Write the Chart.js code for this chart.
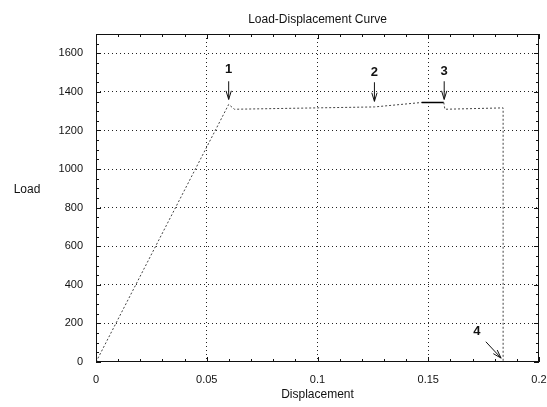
<!DOCTYPE html>
<html>
<head>
<meta charset="utf-8">
<script src="https://cdn.jsdelivr.net/npm/chart.js@4"></script>
<style>
  body { margin: 0; background: #fff; }
</style>
</head>
<body>
<canvas id="chart" width="547" height="407"></canvas>
<script>
// curve points
const displacement = [0, 0.0599, 0.0625, 0.1257, 0.147, 0.157, 0.1575, 0.1838, 0.1838];
const load = [0, 1335, 1310, 1322, 1345, 1345, 1310, 1317, 0];
const solidSegment = 4; // the short solid piece before point 3

// numbered arrows
const markLabels = ['1', '2', '3', '4'];
const markTextX = [0.0599, 0.1257, 0.1572, 0.172];
const markTextY = [1518, 1503, 1508, 157];
const arrowFromX = [0.0599, 0.1257, 0.1572, 0.176];
const arrowFromY = [1455, 1450, 1455, 105];
const arrowToX = [0.0599, 0.1257, 0.1572, 0.1829];
const arrowToY = [1361, 1351, 1361, 20];

const xTickLabels = ['0', '0.05', '0.1', '0.15', '0.2'];
const yTickLabels = ['0', '200', '400', '600', '800', '1000', '1200', '1400', '1600'];

const FONT = '"Liberation Sans", Arial, sans-serif';

const points = displacement.map((x, i) => ({ x: x, y: load[i] }));

const isMajorX = v => Math.round(v * 100) % 5 === 0;
const isMajorY = v => Math.round(v) % 200 === 0;

const decorations = {
  id: 'decorations',
  afterDraw(chart) {
    const { ctx, chartArea: a, scales } = chart;
    const xs = scales.x, ys = scales.y;
    ctx.save();

    // frame
    ctx.strokeStyle = '#111';
    ctx.lineWidth = 1;
    ctx.setLineDash([]);
    ctx.strokeRect(a.left + 0.5, a.top + 0.5, a.right - a.left - 1, a.bottom - a.top - 1);

    // inward ticks on all four sides
    ctx.beginPath();
    xs.ticks.forEach(t => {
      const px = Math.round(xs.getPixelForValue(t.value)) + 0.5;
      const len = isMajorX(t.value) ? 5 : 3;
      ctx.moveTo(px, a.bottom); ctx.lineTo(px, a.bottom - len);
      ctx.moveTo(px, a.top); ctx.lineTo(px, a.top + len);
    });
    ys.ticks.forEach(t => {
      const py = Math.round(ys.getPixelForValue(t.value)) + 0.5;
      const len = isMajorY(t.value) ? 5 : 3;
      ctx.moveTo(a.left, py); ctx.lineTo(a.left + len, py);
      ctx.moveTo(a.right, py); ctx.lineTo(a.right - len, py);
    });
    ctx.stroke();

    // titles
    ctx.fillStyle = '#111';
    ctx.textAlign = 'center';
    ctx.textBaseline = 'middle';
    ctx.font = '12px ' + FONT;
    ctx.fillText('Load-Displacement Curve', (a.left + a.right) / 2, 20);
    ctx.fillText('Displacement', (a.left + a.right) / 2, 395);
    ctx.fillText('Load', 27, 190);

    // numbered arrows
    ctx.font = 'bold 13px ' + FONT;
    ctx.lineWidth = 1;
    markLabels.forEach((lab, i) => {
      const tx = xs.getPixelForValue(markTextX[i]);
      const ty = ys.getPixelForValue(markTextY[i]);
      ctx.fillText(lab, tx, ty);
      const x0 = xs.getPixelForValue(arrowFromX[i]);
      const y0 = ys.getPixelForValue(arrowFromY[i]);
      const x1 = xs.getPixelForValue(arrowToX[i]);
      const y1 = ys.getPixelForValue(arrowToY[i]);
      const ang = Math.atan2(y1 - y0, x1 - x0);
      ctx.beginPath();
      ctx.moveTo(x0, y0); ctx.lineTo(x1, y1);
      ctx.moveTo(x1 - 9 * Math.cos(ang - 0.3), y1 - 9 * Math.sin(ang - 0.3));
      ctx.lineTo(x1, y1);
      ctx.lineTo(x1 - 9 * Math.cos(ang + 0.3), y1 - 9 * Math.sin(ang + 0.3));
      ctx.stroke();
    });
    ctx.restore();
  }
};

new Chart(document.getElementById('chart'), {
  type: 'scatter',
  data: {
    datasets: [{
      data: points,
      showLine: true,
      borderColor: '#444',
      borderWidth: 1,
      pointRadius: 0,
      borderDash: [2, 2],
      segment: {
        borderDash: c => c.p0DataIndex === solidSegment ? [] : [2, 2],
        borderColor: c => c.p0DataIndex === solidSegment ? '#000' : '#444',
        borderWidth: c => c.p0DataIndex === solidSegment ? 1.5 : 1
      }
    }]
  },
  options: {
    responsive: false,
    animation: false,
    layout: { padding: { top: 34, right: 8, left: 0, bottom: 0 } },
    plugins: { legend: { display: false }, tooltip: { enabled: false } },
    scales: {
      x: {
        type: 'linear',
        min: 0, max: 0.2,
        afterFit: s => { s.height = 45; s.paddingLeft = 0; s.paddingRight = 0; },
        afterBuildTicks: s => {
          s.ticks = [];
          for (let i = 0; i <= 20; i++) s.ticks.push({ value: i / 100 });
        },
        ticks: {
          autoSkip: false,
          maxRotation: 0,
          padding: 11,
          color: '#111',
          font: { family: FONT, size: 11 },
          callback: v => isMajorX(v) ? xTickLabels[Math.round(v * 20)] : ''
        },
        grid: {
          drawTicks: false,
          lineWidth: 1,
          color: c => (c.tick && isMajorX(c.tick.value) && c.tick.value > 0.001 && c.tick.value < 0.199) ? '#222' : 'rgba(0,0,0,0)'
        },
        border: { display: false, dash: [1, 3] }
      },
      y: {
        type: 'linear',
        min: 0, max: 1700,
        afterFit: s => { s.width = 96; s.paddingTop = 0; s.paddingBottom = 0; },
        afterBuildTicks: s => {
          s.ticks = [];
          for (let v = 0; v <= 1700; v += 50) s.ticks.push({ value: v });
        },
        ticks: {
          autoSkip: false,
          padding: 13,
          color: '#111',
          font: { family: FONT, size: 11 },
          callback: v => (isMajorY(v) && v <= 1600) ? yTickLabels[Math.round(v / 200)] : ''
        },
        grid: {
          drawTicks: false,
          lineWidth: 1,
          color: c => (c.tick && isMajorY(c.tick.value) && c.tick.value > 0 && c.tick.value <= 1600) ? '#222' : 'rgba(0,0,0,0)'
        },
        border: { display: false, dash: [1, 3] }
      }
    }
  },
  plugins: [decorations]
});
</script>
</body>
</html>
